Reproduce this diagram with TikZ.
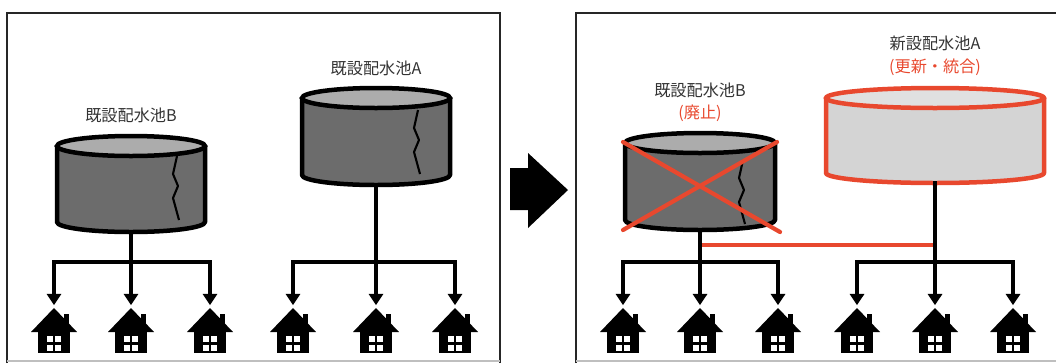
\documentclass[tikz,border=0pt]{standalone}
\usepackage{fontspec}
\newfontfamily\jpfont{Noto Sans CJK JP}
\usepackage{tikz}
\usetikzlibrary{arrows.meta, positioning, calc}

\definecolor{tankred}{RGB}{232,72,46}
\definecolor{oldbody}{RGB}{108,108,108}
\definecolor{oldtop}{RGB}{172,172,172}
\definecolor{newbody}{RGB}{212,212,212}
\definecolor{newtop}{RGB}{224,224,224}

\tikzset{
  frame/.style={line width=1.6pt, black!85},
  pipe/.style={line width=2.6pt, line cap=rect},
  feed/.style={pipe, -{Triangle[width=10pt,length=8pt]}, shorten >=2pt},
  link/.style={line width=3pt, tankred},
  label/.style={font=\jpfont\fontsize{11.5}{13}\selectfont, text=black!80, inner sep=1pt},
  note/.style={label, text=tankred},
  housebox/.style={inner sep=0pt, minimum width=1.15cm, minimum height=1.15cm, anchor=north},
}

% name, centre x, top y, bottom y, x radius, body, top, outline
\newcommand{\tank}[8]{%
  \fill[#6] (#2-#5,#3) -- (#2-#5,#4) arc[start angle=180, end angle=0, x radius=#5, y radius=10] -- (#2+#5,#3) -- cycle;
  \filldraw[fill=#7, draw=#8, line width=3.2pt] (#2,#3) ellipse[x radius=#5, y radius=10];
  \draw[#8, line width=3.2pt, line join=round] (#2-#5,#3) -- (#2-#5,#4) arc[start angle=180, end angle=0, x radius=#5, y radius=10] -- (#2+#5,#3);
  \coordinate (#1) at (#2,#4+10);
}

% crack down the side of a tank
\newcommand{\crack}[1]{%
  \draw[line width=1.5pt, line join=round] (#1) -- ++(-4,18) -- ++(5,12) -- ++(-5,12) -- ++(6,22);
}

% name, roof top
\newcommand{\house}[2]{%
  \node[housebox] (#1) at (#2) {};
  \begin{scope}[shift={(#2)}]
    \fill (0,0) -- (23,24) -- (-23,24) -- cycle;
    \fill (10,6) rectangle (15,16);
    \fill (-16,22) rectangle (16,45);
    \fill[white] (-7,28) rectangle (7,43);
    \draw[line width=1.5pt] (0,28) -- (0,43) (-7,35.5) -- (7,35.5);
  \end{scope}
}

\begin{document}
\begin{tikzpicture}[x=0.025cm, y=-0.025cm]
  \useasboundingbox (0,0) rectangle (1056,363);

  \draw[frame] (7,363) |- (500,13) -- (500,363);
  \draw[frame] (576,363) |- (1056,13);
  \draw[black!25, line width=0.8pt] (7,361) -- (500,361) (576,361) -- (1056,361);

  \fill (510,168) -- (528,168) -- (528,153) -- (568,190) -- (528,228) -- (528,210) -- (510,210) -- cycle;

  % before
  \node[label] (lblB) at (131,115) {既設配水池B};
  \node[label] (lblA) at (376,68) {既設配水池A};

  \house{h1}{54,308}
  \house{h2}{131,308}
  \house{h3}{210,308}
  \house{h4}{293,308}
  \house{h5}{376,308}
  \house{h6}{455,308}

  \coordinate (jB) at (131,262);
  \coordinate (jA) at (376,262);

  \tank{tB}{131}{146}{222}{74}{oldbody}{oldtop}{black}
  \crack{177,156}
  \tank{tA}{376}{98}{175}{74}{oldbody}{oldtop}{black}
  \crack{418,110}

  \draw[pipe] (tB) -- (jB);
  \draw[pipe] (h1.north |- jB) -- (h3.north |- jB);
  \draw[feed] (h1.north |- jB) -- (h1.north);
  \draw[feed] (jB) -- (h2.north);
  \draw[feed] (h3.north |- jB) -- (h3.north);

  \draw[pipe] (tA) -- (jA);
  \draw[pipe] (h4.north |- jA) -- (h6.north |- jA);
  \draw[feed] (h4.north |- jA) -- (h4.north);
  \draw[feed] (jA) -- (h5.north);
  \draw[feed] (h6.north |- jA) -- (h6.north);

  % after
  \node[label] (lblB2) at (700,90) {既設配水池B};
  \node[note] (noteB) at (700,113) {(廃止)};
  \node[label] (lblA2) at (935,43) {新設配水池A};
  \node[note] (noteA) at (935,67) {(更新・統合)};

  \house{h7}{623,308}
  \house{h8}{700,308}
  \house{h9}{778,308}
  \house{h10}{857,308}
  \house{h11}{935,308}
  \house{h12}{1013,308}

  \coordinate (jB2) at (700,262);
  \coordinate (jA2) at (935,262);
  \coordinate (kB) at (700,245);
  \coordinate (kA) at (935,245);

  \tank{tB2}{700}{143}{220}{75}{oldbody}{oldtop}{black}
  \crack{743,160}
  \draw[link, line cap=round] (623,142) -- (780,232) (777,142) -- (623,230);
  \tank{tA2}{935}{98}{173}{109}{newbody}{newtop}{tankred}

  \draw[link] (kB) -- (kA);

  \draw[pipe] (tB2) -- (jB2);
  \draw[pipe] (h7.north |- jB2) -- (h9.north |- jB2);
  \draw[feed] (h7.north |- jB2) -- (h7.north);
  \draw[feed] (jB2) -- (h8.north);
  \draw[feed] (h9.north |- jB2) -- (h9.north);

  \draw[pipe] (tA2) -- (jA2);
  \draw[pipe] (h10.north |- jA2) -- (h12.north |- jA2);
  \draw[feed] (h10.north |- jA2) -- (h10.north);
  \draw[feed] (jA2) -- (h11.north);
  \draw[feed] (h12.north |- jA2) -- (h12.north);
\end{tikzpicture}
\end{document}
